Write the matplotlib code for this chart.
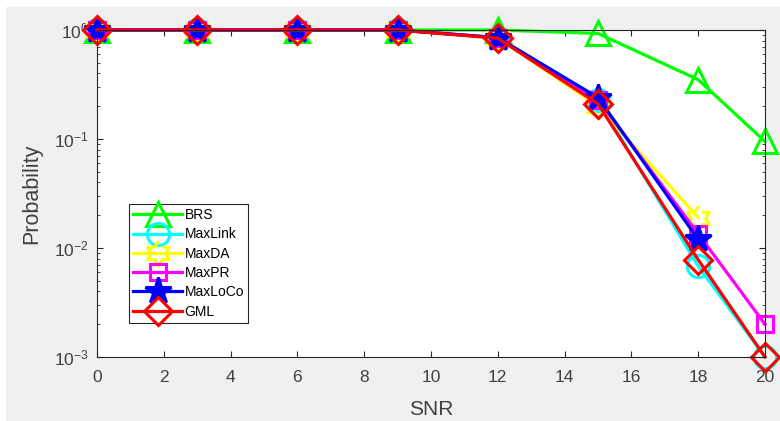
import numpy as np
import matplotlib.pyplot as plt
from matplotlib.patches import Rectangle

plt.rcParams['font.family'] = ['Liberation Sans', 'DejaVu Sans']
plt.rcParams['mathtext.fontset'] = 'custom'
plt.rcParams['mathtext.rm'] = 'Liberation Sans'

snr = [0, 3, 6, 9, 12, 15, 18, 20]
brs = [1, 1, 1, 1, 1.0, 0.93, 0.35, 0.095]
maxlink = [1, 1, 1, 1, 0.85, 0.23, 0.0068, 0.001]
maxda = [1, 1, 1, 1, 0.85, 0.2, 0.019, np.nan]
maxpr = [1, 1, 1, 1, 0.85, 0.23, 0.0135, 0.002]
maxloco = [1, 1, 1, 1, 0.85, 0.24, 0.012, np.nan]
gml = [1, 1, 1, 1, 0.84, 0.21, 0.0078, 0.001]

# six pointed star like matlab 'h'
ang = np.pi / 2 + np.arange(12) * np.pi / 6
rad = np.where(np.arange(12) % 2 == 0, 1.0, 1 / np.sqrt(3))
hexagram = list(zip(rad * np.cos(ang), rad * np.sin(ang)))

series = [
    ('BRS', brs, '#00ff00', '^', 17),
    ('MaxLink', maxlink, '#00ffff', 'o', 16),
    ('MaxDA', maxda, '#ffff00', hexagram, 18),
    ('MaxPR', maxpr, '#ff00ff', 's', 12),
    ('MaxLoCo', maxloco, '#0000ff', '*', 20),
    ('GML', gml, '#ff0000', 'D', 14),
]

fig = plt.figure(figsize=(7.8, 4.21), dpi=100)
fig.patch.set_facecolor('white')
fig.patches.append(Rectangle((6 / 780, 0), 1, 1 - 7 / 421, transform=fig.transFigure,
                             facecolor='#f0f0f0', edgecolor='none', zorder=-10))
ax = fig.add_axes([97 / 780, 1 - 357 / 421, 668 / 780, 327 / 421])
ax.set_facecolor('white')

for name, vals, col, mk, ms in series:
    ax.plot(snr, vals, color=col, marker=mk, markersize=ms, linewidth=2.3,
            markerfacecolor=col if mk == '*' else 'none', markeredgewidth=2.2,
            label=name, clip_on=False)

ax.set_yscale('log')
ax.set_xlim(0, 20)
ax.set_ylim(1e-3, 1)
ax.set_xticks(range(0, 21, 2))
ax.tick_params(which='both', direction='in', top=True, right=True, labelsize=12.5,
               colors='#262626', labelcolor='#404040')
ax.tick_params(axis='x', pad=9)
ax.tick_params(axis='y', pad=6)
ax.tick_params(which='major', length=4)
ax.tick_params(which='minor', length=2)
for s in ax.spines.values():
    s.set_color('#262626')
ax.set_xlabel('SNR', fontsize=15, color='#404040', labelpad=11)
ax.set_ylabel('Probability', fontsize=15.5, color='#404040', labelpad=8)

leg = ax.legend(loc='upper left', bbox_to_anchor=(0.048, 0.468), fontsize=10,
                frameon=True, fancybox=False, edgecolor='#262626', handlelength=3.5,
                borderpad=0.3, labelspacing=0.38, handletextpad=0.2, borderaxespad=0,
                framealpha=1)
leg.get_frame().set_linewidth(0.8)

fig.savefig('out.png', dpi=100)
